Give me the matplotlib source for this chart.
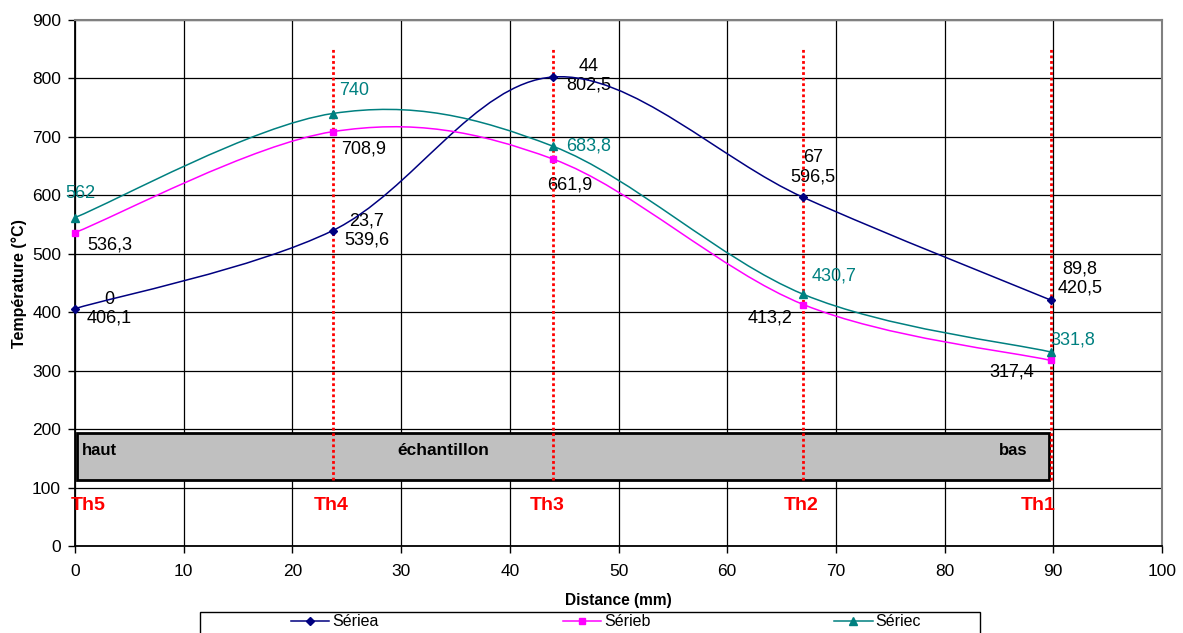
import numpy as np
import matplotlib
matplotlib.use("Agg")
import matplotlib.pyplot as plt
from matplotlib.path import Path
from matplotlib.patches import PathPatch, Rectangle
from matplotlib.lines import Line2D

plt.rcParams['font.family'] = ['Liberation Sans', 'DejaVu Sans']

# data
distance = [0, 23.7, 44, 67, 89.8]
temp_a = [406.1, 539.6, 802.5, 596.5, 420.5]
temp_b = [536.3, 708.9, 661.9, 413.2, 317.4]
temp_c = [562, 740, 683.8, 430.7, 331.8]
series_names = ["Sériea", "Sérieb", "Sériec"]
th_names = ["Th5", "Th4", "Th3", "Th2", "Th1"]

colors = ["#000080", "#FF00FF", "#008080"]
markers = ["D", "s", "^"]
msizes = [4.5, 5, 5.5]

# label offsets in pixels (x right, y up)
off_a = [(34, 0), (34, 0), (35, 1), (10, 30), (29, 22)]
off_b = [(35, -12), (31, -17), (16, -26), (-33, -13), (-39, -12)]
off_c = [(5, 24), (22, 23), (35, 0), (31, 18), (22, 12)]
off_th = [(13, 0), (-1, 0), (-6, 0), (-2, 0), (-13, 0)]


def smooth_path(x, y):
    # excel-like smoothed line: cubic bezier through the points
    pts = np.column_stack([x, y]).astype(float)
    n = len(pts)
    verts = [pts[0]]
    codes = [Path.MOVETO]
    for i in range(n - 1):
        p0 = pts[max(i - 1, 0)]
        p1 = pts[i]
        p2 = pts[i + 1]
        p3 = pts[min(i + 2, n - 1)]
        verts += [p1 + (p2 - p0) / 6, p2 - (p3 - p1) / 6, p2]
        codes += [Path.CURVE4] * 3
    return Path(verts, codes)


def fmt(v):
    return f"{v:g}".replace(".", ",")


fig = plt.figure(figsize=(11.83, 6.33), dpi=100)
ax = fig.add_axes([75 / 1183, 1 - 546 / 633, 1087 / 1183, 526 / 633])

ax.set_xlim(0, 100)
ax.set_ylim(0, 900)
ax.set_xticks(range(0, 101, 10))
ax.set_yticks(range(0, 901, 100))
ax.grid(True, color="black", lw=0.9)
ax.set_axisbelow(True)
ax.tick_params(labelsize=12.5, direction="out", length=5, width=1, pad=5)
ax.tick_params(axis="x", pad=8)
for s in ["top", "right"]:
    ax.spines[s].set_color("#808080")
    ax.spines[s].set_linewidth(1.5)
for s in ["left", "bottom"]:
    ax.spines[s].set_color("black")
    ax.spines[s].set_linewidth(1.3)

# sample bar
ax.add_patch(Rectangle((0.15, 113), 89.45, 80, facecolor="#C0C0C0",
                       edgecolor="black", lw=2, zorder=2))
ax.text(0.6, 163, "haut", fontsize=12, fontweight="bold", va="center", zorder=3)
ax.text(29.7, 163, "échantillon", fontsize=12.5, fontweight="bold", va="center", zorder=3)
ax.text(85.0, 163, "bas", fontsize=12, fontweight="bold", va="center", zorder=3)

# thermocouple positions
for i, (xv, name) in enumerate(zip(distance, th_names)):
    if i > 0:
        ax.plot([xv, xv], [113, 850], color="red", ls=(0, (1, 1)), lw=2, zorder=4)
    ax.annotate(name, (xv, 70), xytext=off_th[i], textcoords="offset pixels",
                ha="center", va="center", color="red", fontsize=14,
                fontweight="bold", annotation_clip=False)

handles = []
for ys, c, m, ms, name in zip([temp_a, temp_b, temp_c], colors, markers, msizes, series_names):
    ax.add_patch(PathPatch(smooth_path(distance, ys), fill=False, edgecolor=c, lw=1.1, zorder=5))
    ax.plot(distance, ys, ls="none", marker=m, ms=ms, color=c, zorder=6, clip_on=False)
    handles.append(Line2D([], [], color=c, marker=m, ms=ms, lw=1.1))

for xv, yv, o in zip(distance, temp_a, off_a):
    ax.annotate(fmt(xv) + "\n" + fmt(yv), (xv, yv), xytext=o, textcoords="offset pixels",
                ha="center", va="center", fontsize=13, color="black", linespacing=1.15)
for xv, yv, o in zip(distance, temp_b, off_b):
    ax.annotate(fmt(yv), (xv, yv), xytext=o, textcoords="offset pixels",
                ha="center", va="center", fontsize=13, color="black")
for xv, yv, o in zip(distance, temp_c, off_c):
    ax.annotate(fmt(yv), (xv, yv), xytext=o, textcoords="offset pixels",
                ha="center", va="center", fontsize=13, color="#008080")

fig.text(19 / 1183, 1 - 284 / 633, "Température (°C)", rotation=90, ha="center",
         va="center", fontsize=11.5, fontweight="bold")
fig.text(618 / 1183, 1 - 600 / 633, "Distance (mm)", ha="center", va="center",
         fontsize=11.2, fontweight="bold")

# legend box runs off the bottom edge like the original
fig.add_artist(Rectangle((200 / 1183, -0.02), 780 / 1183, 0.02 + 21 / 633,
                         transform=fig.transFigure, facecolor="white",
                         edgecolor="black", lw=1))
fig.legend(handles, series_names, loc="center left",
           bbox_to_anchor=(291 / 1183, 1 - 622 / 633), ncol=3, frameon=False,
           fontsize=11.5, handlelength=2.4, handletextpad=0.2, columnspacing=11.5,
           borderpad=0, borderaxespad=0)

fig.savefig("out.png", dpi=100)
